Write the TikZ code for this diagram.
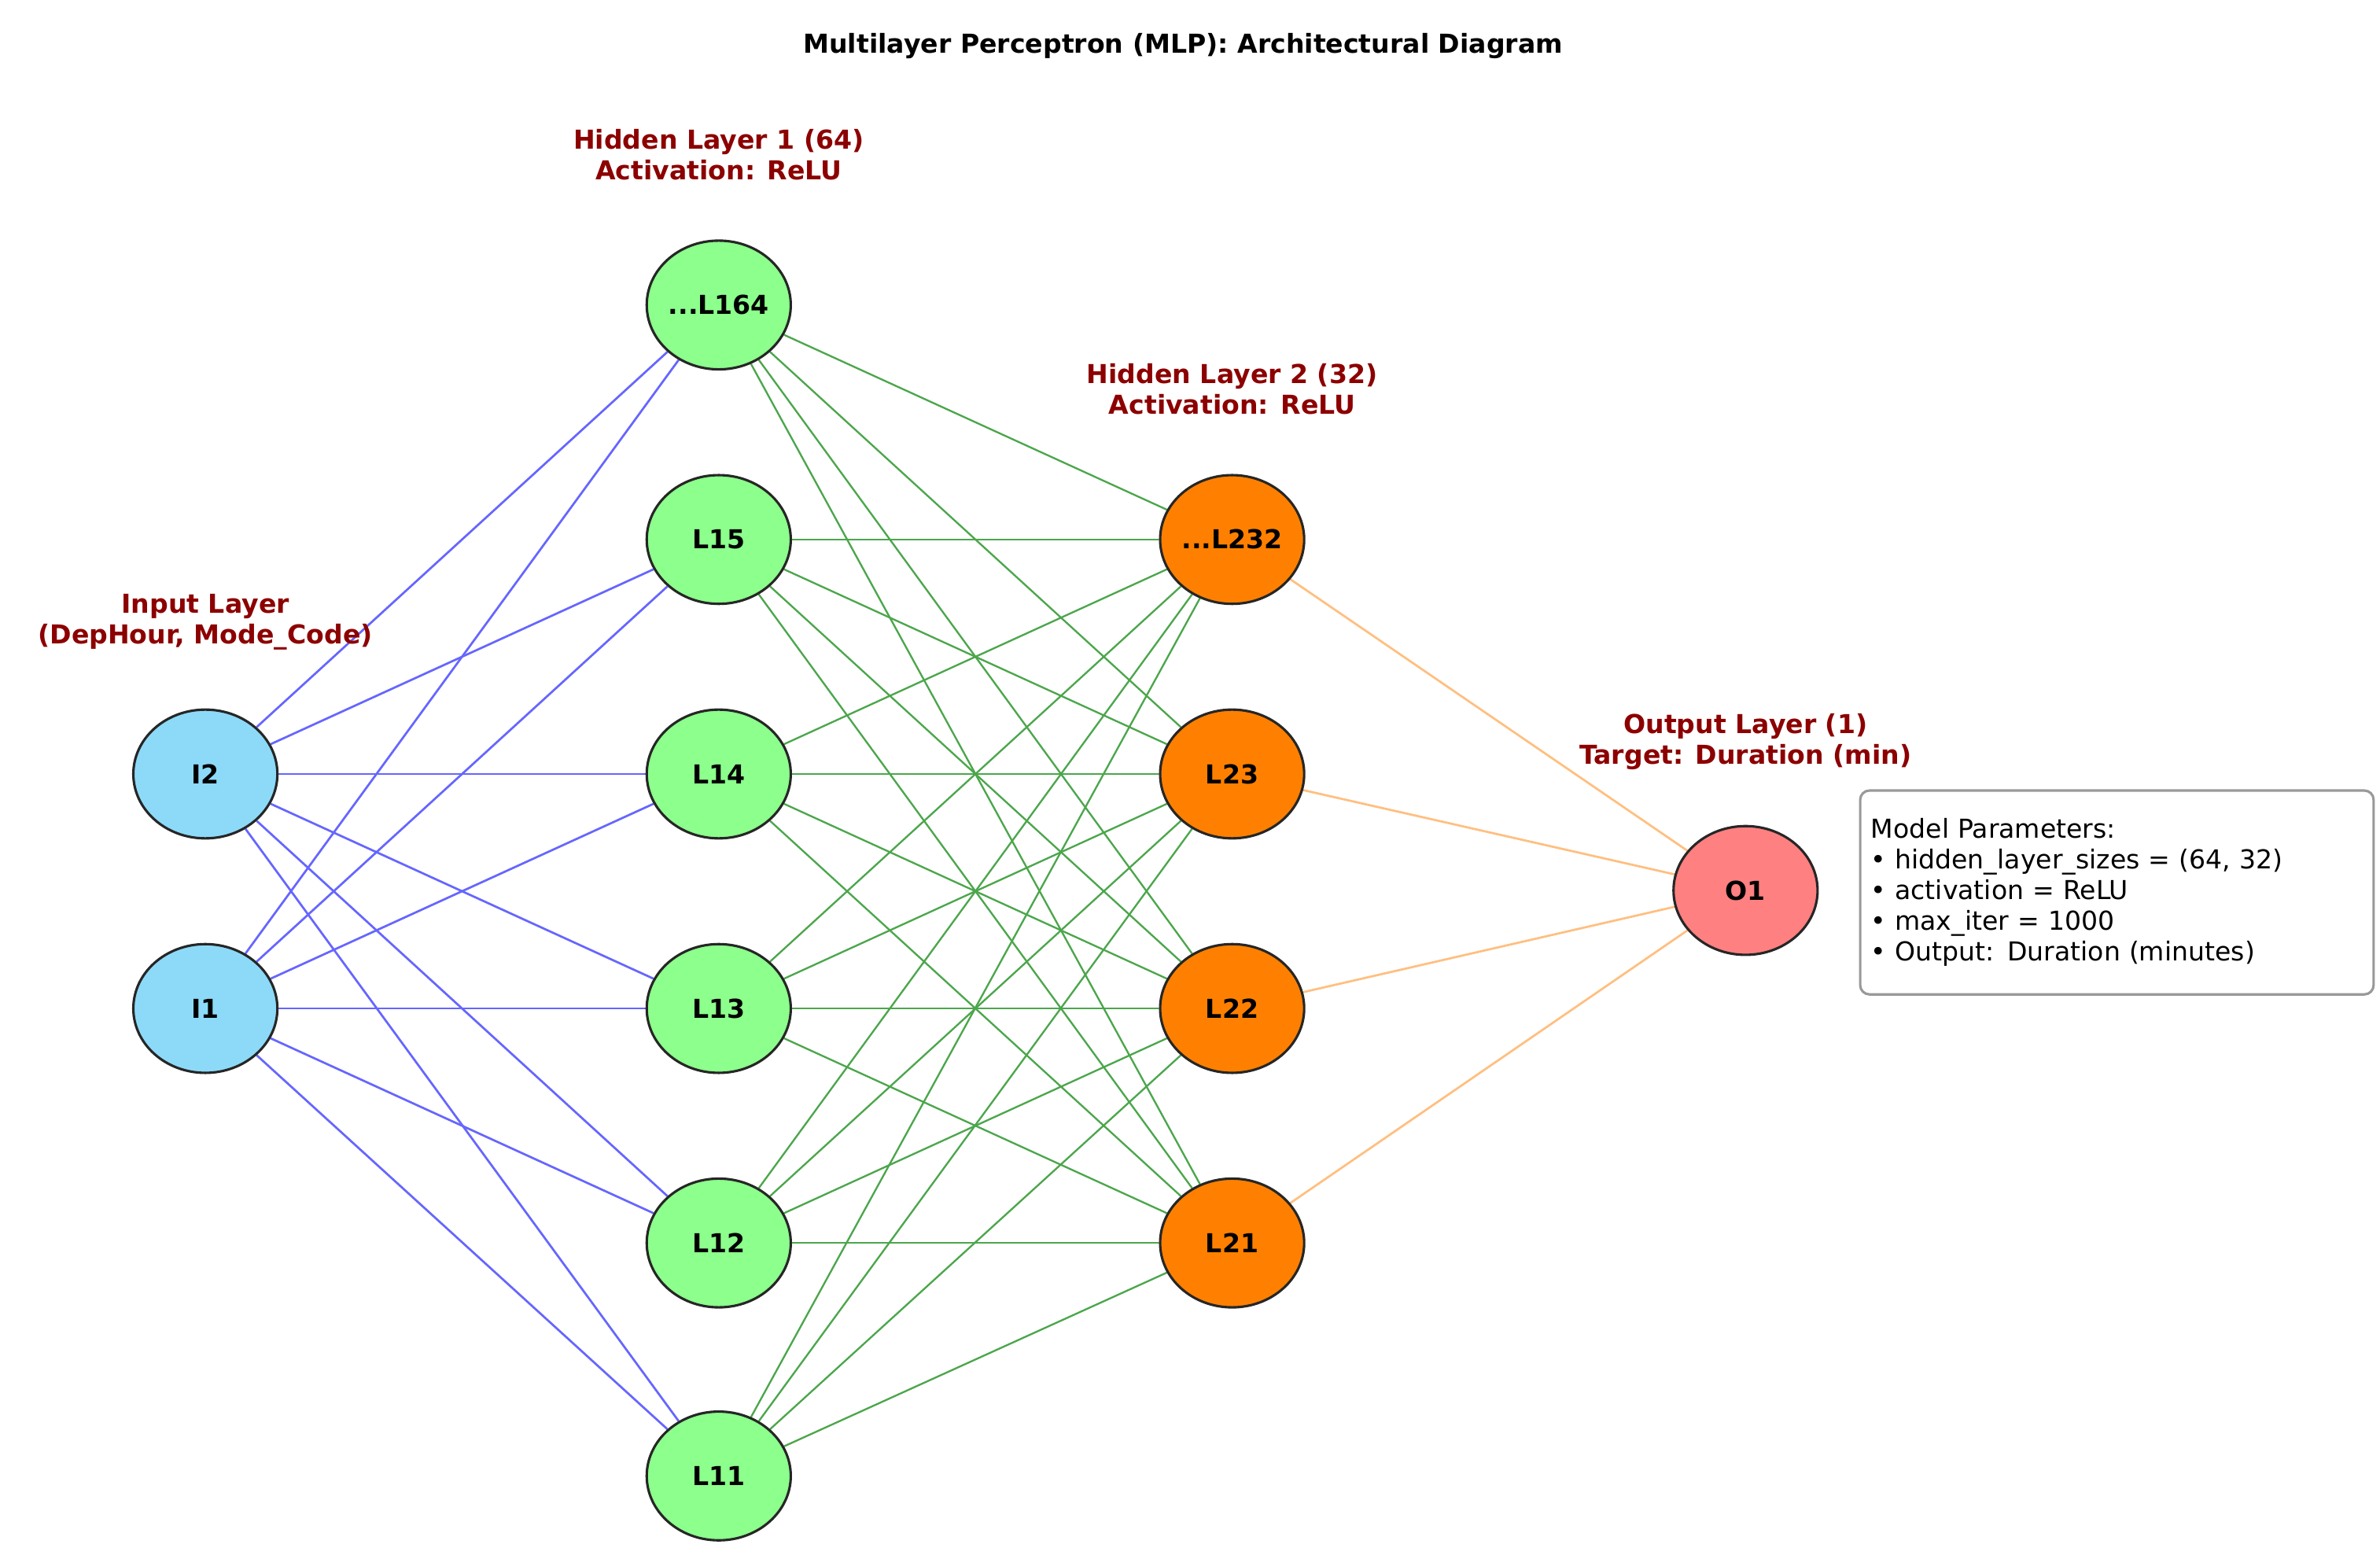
\documentclass[tikz,border=0pt]{standalone}
\usepackage{fontspec}
\setmainfont{DejaVu Sans}
\usetikzlibrary{shapes.geometric,backgrounds}
\newcommand\tdots{...}
\begin{document}
\begin{tikzpicture}[x=1pt,y=-1pt,
  neuron/.style={ellipse,draw=black!85,line width=1.6pt,minimum width=94pt,minimum height=84pt,inner sep=0pt,font=\fontsize{17}{20}\selectfont\bfseries},
  lbl/.style={text=red!55!black,font=\fontsize{17}{20}\selectfont\bfseries,align=center},
  eb/.style={blue!60,line width=1.4pt},
  eg/.style={green!50!black!70,line width=1.2pt},
  eo/.style={orange!50,line width=1.4pt}]
\useasboundingbox (0,0) rectangle (1553,1017);
\foreach \n/\y/\t in {2/505/I2,1/658/I1}
  \node[neuron,fill=cyan!45] (I\n) at (134,\y) {\t};
\foreach \n/\y/\t in {6/199/\tdots L164,5/352/L15,4/505/L14,3/658/L13,2/811/L12,1/963/L11}
  \node[neuron,fill=green!45] (A\n) at (469,\y) {\t};
\foreach \n/\y/\t in {4/352/\tdots L232,3/505/L23,2/658/L22,1/811/L21}
  \node[neuron,fill=orange] (B\n) at (804,\y) {\t};
\node[neuron,fill=red!50] (O) at (1139,581) {O1};
\begin{scope}[on background layer]
\foreach \i in {1,2} \foreach \a in {1,...,6} \draw[eb] (I\i) -- (A\a);
\foreach \a in {1,...,6} \foreach \b in {1,...,4} \draw[eg] (A\a) -- (B\b);
\foreach \b in {1,...,4} \draw[eo] (B\b) -- (O);
\end{scope}
\node[font=\fontsize{17}{20}\selectfont\bfseries] (title) at (772,30) {Multilayer Perceptron (MLP): Architectural Diagram};
\node[lbl] (h1) at (469,101) {Hidden Layer 1 (64)\\Activation: ReLU};
\node[lbl] (h2) at (804,254) {Hidden Layer 2 (32)\\Activation: ReLU};
\node[lbl] (in) at (134,406) {Input Layer\\(DepHour, Mode\_Code)};
\node[lbl] (out) at (1139,484) {Output Layer (1)\\Target: Duration (min)};
\node[draw=black!40,line width=1.6pt,rounded corners=6pt,fill=white,align=left,anchor=north west,
  font=\fontsize{17}{20}\selectfont,inner sep=7pt,minimum height=133pt,text width=321pt] (box) at (1213,515)
  {Model Parameters:\\ \textbullet\ hidden\_layer\_sizes = (64, 32)\\ \textbullet\ activation = ReLU\\ \textbullet\ max\_iter = 1000\\ \textbullet\ Output: Duration (minutes)};
\end{tikzpicture}
\end{document}
